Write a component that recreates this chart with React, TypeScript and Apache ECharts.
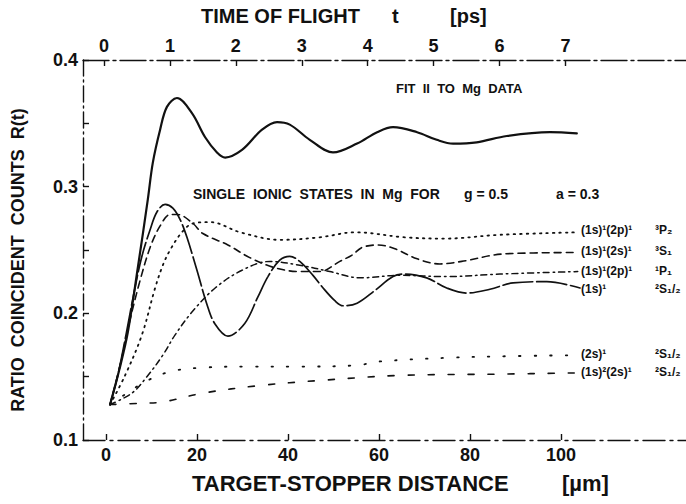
import { useEffect, useRef } from "react";
import * as echarts from "echarts";

// Axis ticks
const distanceTicks = [0, 20, 40, 60, 80, 100]; // µm
const timeTicks = [0, 1, 2, 3, 4, 5, 6, 7]; // ps

// FIT II to Mg data
const fitDist = [0.9, 2.9, 4.8, 7.0, 9.2, 10.3, 11.9, 13.4, 15.6, 18.9, 21.8, 24.4, 26.2, 29.9, 34.3, 37.6, 40.4, 44.8, 49.9, 55.2, 59.6, 63.1, 68.4, 72.7, 76.3, 81.5, 88.1, 97.6, 103.5];
const fitRatio = [0.128, 0.155, 0.185, 0.236, 0.29, 0.319, 0.345, 0.363, 0.37, 0.358, 0.339, 0.327, 0.323, 0.329, 0.345, 0.351, 0.349, 0.337, 0.327, 0.334, 0.343, 0.347, 0.343, 0.337, 0.334, 0.335, 0.34, 0.343, 0.342];

// (1s)1 2S1/2
const s1Dist = [0.9, 2.6, 4.4, 6.2, 7.9, 9.7, 11.2, 13.0, 14.7, 16.3, 17.8, 20.0, 22.2, 23.9, 26.8, 30.5, 33.4, 35.6, 38.2, 40.4, 42.6, 45.5, 47.5, 50.3, 52.1, 55.2, 59.1, 63.1, 65.7, 70.5, 74.9, 79.3, 84.4, 89.5, 96.9, 104.2];
const s1Ratio = [0.128, 0.151, 0.183, 0.217, 0.245, 0.266, 0.28, 0.286, 0.283, 0.274, 0.26, 0.234, 0.207, 0.192, 0.182, 0.192, 0.213, 0.229, 0.242, 0.245, 0.241, 0.23, 0.221, 0.21, 0.206, 0.208, 0.218, 0.229, 0.231, 0.228, 0.22, 0.216, 0.219, 0.224, 0.225, 0.22];

// (1s)1(2s)1 3S1
const s2Dist = [0.9, 3.1, 5.3, 7.5, 9.7, 11.9, 14.1, 15.8, 19.1, 21.3, 26.8, 31.6, 37.1, 42.6, 47.0, 51.4, 54.1, 56.3, 59.8, 63.5, 68.4, 73.4, 78.2, 87.7, 103.7];
const s2Ratio = [0.128, 0.159, 0.195, 0.226, 0.252, 0.269, 0.278, 0.278, 0.271, 0.263, 0.254, 0.244, 0.236, 0.233, 0.233, 0.241, 0.246, 0.252, 0.254, 0.251, 0.243, 0.239, 0.241, 0.247, 0.248];

// (1s)1(2p)1 3P2
const s3Dist = [0.9, 4.2, 7.9, 10.8, 12.5, 14.1, 16.7, 19.1, 22.9, 29.5, 38.2, 47.0, 54.7, 65.7, 74.5, 86.6, 103.7];
const s3Ratio = [0.128, 0.151, 0.183, 0.22, 0.238, 0.25, 0.264, 0.271, 0.272, 0.264, 0.258, 0.26, 0.264, 0.26, 0.259, 0.262, 0.264];

// (1s)1(2p)1 1P1
const s4Dist = [0.9, 5.7, 9.0, 12.5, 15.2, 18.9, 24.0, 29.9, 36.0, 42.6, 49.2, 55.8, 64.6, 74.9, 86.6, 103.7];
const s4Ratio = [0.128, 0.137, 0.15, 0.167, 0.183, 0.201, 0.22, 0.234, 0.241, 0.238, 0.233, 0.228, 0.23, 0.229, 0.231, 0.233];

// (2s)1 2S1/2
const s5Dist = [0.9, 4.2, 8.6, 14.1, 20.7, 31.6, 42.6, 55.2, 60.2, 75.6, 85.9, 103.7];
const s5Ratio = [0.128, 0.136, 0.146, 0.154, 0.157, 0.158, 0.158, 0.159, 0.162, 0.165, 0.166, 0.167];

// (1s)2(2s)1 2S1/2
const s6Dist = [0.9, 8.1, 12.5, 21.3, 33.8, 47.0, 64.6, 86.6, 103.7];
const s6Ratio = [0.128, 0.129, 0.13, 0.137, 0.143, 0.147, 0.151, 0.152, 0.153];

// State labels at the right-hand end of the curves
const stateConfigs = ["(1s)¹(2p)¹", "(1s)¹(2s)¹", "(1s)¹(2p)¹", "(1s)¹", "(2s)¹", "(1s)²(2s)¹"];
const stateTerms = ["³P₂", "³S₁", "¹P₁", "²S₁/₂", "²S₁/₂", "²S₁/₂"];

const FONT = "'Liberation Sans', 'DejaVu Sans', sans-serif";
const INK = "#111";

const pairs = (xs: number[], ys: number[]) => xs.map((x, i) => [x, ys[i]]);

const curve = (name: string, xs: number[], ys: number[], type: any, width: number) => ({
  name,
  type: "line",
  xAxisIndex: 0,
  yAxisIndex: 0,
  data: pairs(xs, ys),
  smooth: 0.35,
  showSymbol: false,
  symbol: "none",
  lineStyle: { color: INK, width, type, cap: "round" },
  z: 3,
});

const labelRowsY = [231, 252, 272, 290, 355, 373];

const text = (left: number, top: number, t: string, size: number) => ({
  type: "text",
  left,
  top,
  style: { text: t, fill: INK, font: `bold ${size}px ${FONT}` },
});

const option: any = {
  animation: false,
  backgroundColor: "#fff",
  grid: { left: 83, right: 0, top: 60, bottom: 64, containLabel: false },
  xAxis: [
    {
      type: "value",
      position: "bottom",
      min: -5.05,
      max: 127.5,
      axisLine: { onZero: false, lineStyle: { color: INK, width: 1.4, type: [22, 5, 3, 5] } },
      axisTick: { inside: true, length: 6, customValues: distanceTicks, lineStyle: { color: INK, width: 1.4 } },
      axisLabel: { customValues: distanceTicks, margin: 6, color: INK, fontFamily: FONT, fontWeight: "bold", fontSize: 18 },
      splitLine: { show: false },
    },
    {
      type: "value",
      position: "top",
      min: -0.319,
      max: 8.83,
      axisLine: { onZero: false, lineStyle: { color: INK, width: 1.4, type: [26, 4, 3, 4] } },
      axisTick: { inside: true, length: 6, customValues: timeTicks, lineStyle: { color: INK, width: 1.4 } },
      axisLabel: { customValues: timeTicks, margin: 5, color: INK, fontFamily: FONT, fontWeight: "bold", fontSize: 18 },
      splitLine: { show: false },
    },
  ],
  yAxis: {
    type: "value",
    min: 0.1,
    max: 0.4,
    interval: 0.05,
    axisLine: { show: true, onZero: false, lineStyle: { color: INK, width: 1.4, type: [16, 4, 2, 4] } },
    axisTick: { show: true, inside: true, length: 6, lineStyle: { color: INK, width: 1.4 } },
    axisLabel: {
      margin: 5,
      color: INK,
      fontFamily: FONT,
      fontWeight: "bold",
      fontSize: 18,
      formatter: (v: number) => (Math.abs(v * 10 - Math.round(v * 10)) < 1e-6 ? v.toFixed(1) : ""),
    },
    splitLine: { show: false },
  },
  series: [
    curve("FIT II TO Mg DATA", fitDist, fitRatio, "solid", 2.2),
    curve("(1s)1 2S1/2", s1Dist, s1Ratio, [30, 4], 1.7),
    curve("(1s)1(2s)1 3S1", s2Dist, s2Ratio, [7, 5], 1.6),
    curve("(1s)1(2p)1 3P2", s3Dist, s3Ratio, [1.5, 5], 1.8),
    curve("(1s)1(2p)1 1P1", s4Dist, s4Ratio, [6, 4, 1.5, 4], 1.5),
    curve("(2s)1 2S1/2", s5Dist, s5Ratio, [1.5, 14], 1.8),
    curve("(1s)2(2s)1 2S1/2", s6Dist, s6Ratio, [6, 14], 1.6),
  ],
  graphic: [
    // top axis title
    text(201, 6, "TIME OF FLIGHT", 20),
    text(392, 6, "t", 20),
    text(450, 6, "[ps]", 20),
    // bottom axis title
    text(192, 472, "TARGET-STOPPER DISTANCE", 22),
    text(562, 472, "[µm]", 22),
    {
      type: "text",
      x: 18,
      y: 260,
      rotation: Math.PI / 2,
      style: {
        text: "RATIO  COINCIDENT  COUNTS  R(t)",
        fill: INK,
        font: `bold 18px ${FONT}`,
        align: "center",
        verticalAlign: "middle",
      },
    },
    text(396, 82, "FIT  II  TO  Mg  DATA", 13),
    text(193, 187, "SINGLE  IONIC  STATES  IN  Mg  FOR", 14),
    text(464, 187, "g = 0.5", 14),
    text(556, 187, "a = 0.3", 14),
    ...stateConfigs.map((s, i) => text(581, labelRowsY[i] - 7, s, 12)),
    ...stateTerms.map((s, i) => text(655, labelRowsY[i] - 7, s, 12)),
  ],
};

export default function App() {
  const ref = useRef<HTMLDivElement>(null);
  useEffect(() => {
    const chart = echarts.init(ref.current!, null, { renderer: "svg" });
    chart.setOption(option);
    return () => chart.dispose();
  }, []);
  return (
    <div
      ref={ref}
      style={{ position: "fixed", left: 0, top: 0, width: 686, height: 504, background: "#fff" }}
    />
  );
}
